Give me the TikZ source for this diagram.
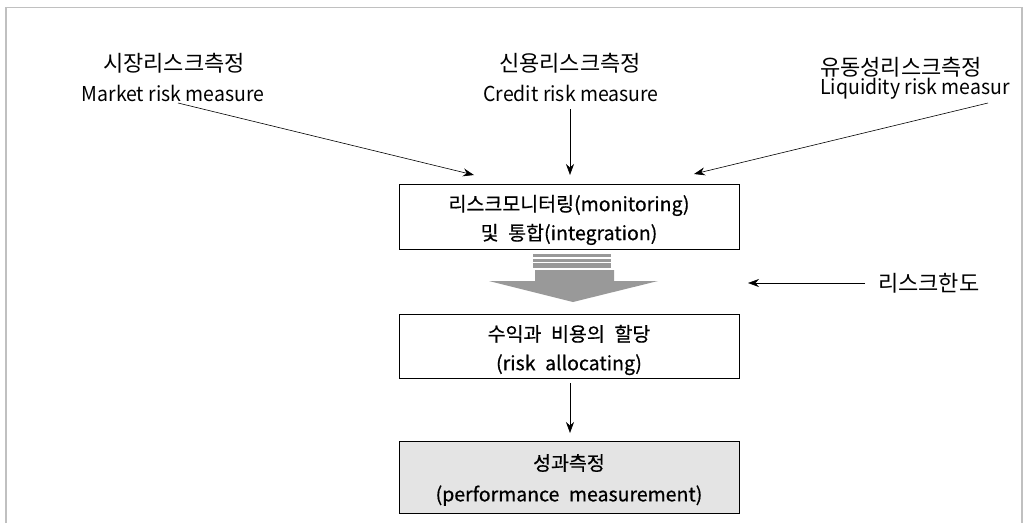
\documentclass[tikz,border=0pt]{standalone}
\usepackage{fontspec}
\setmainfont{Noto Sans CJK KR}
\newfontfamily\boxfont[FakeBold=0.6,WordSpace=2.2]{Noto Sans CJK KR}
\usetikzlibrary{arrows.meta}
\definecolor{framegray}{HTML}{C0C0C0}
\definecolor{arrowgray}{HTML}{999999}
\definecolor{boxfill}{HTML}{E4E4E4}
\tikzset{
  stepbox/.style={draw=black, line width=1pt, minimum width=340pt, inner sep=0pt},
  boxtext/.style={align=center, inner sep=0pt, font=\boxfont\fontsize{19.5}{29}\selectfont},
  toplabel/.style={inner sep=0pt, font=\fontsize{22}{24}\selectfont},
  subtitle/.style={inner sep=0pt, font=\fontsize{20.5}{22}\selectfont},
  conn/.style={line width=0.6pt, -{Stealth[length=11pt,width=8pt]}},
}
\begin{document}
\begin{tikzpicture}[x=1pt,y=-1pt]
\useasboundingbox (0,0) rectangle (1029,523);
% frame
\draw[framegray, line width=1.5pt] (6,523) -- (6,7.5) -- (1022,7.5) -- (1022,523);
% top labels
\node[toplabel] (k1) at (174,63) {시장리스크측정};
\node[subtitle, xscale=0.95] (e1) at (173,93) {Market risk measure};
\node[toplabel] (k2) at (570,63) {신용리스크측정};
\node[subtitle, xscale=0.95] (e2) at (571,93) {Credit risk measure};
\node[toplabel, anchor=west] (k3) at (820,67) {유동성리스크측정};
\node[subtitle, xscale=0.95, anchor=west] (e3) at (820,89) {Liquidity risk measur};
% boxes
\node[stepbox, minimum height=65pt] (b1) at (569,216.5) {};
\node[boxtext] (b1t) at (569,220) {리스크모니터링(monitoring)\\및 통합(integration)};
\node[stepbox, minimum height=64pt] (b2) at (569,346) {};
\node[boxtext] (b2t) at (569,350) {수익과 비용의 할당\\(risk allocating)};
\node[stepbox, minimum height=72pt, fill=boxfill] (b3) at (569,477) {};
\node[boxtext, font=\boxfont\fontsize{19.5}{31}\selectfont] (b3t) at (569,480) {성과측정\\(performance measurement)};
% arrow end points
\coordinate (s1) at (178,103);
\coordinate (t1) at (474,175);
\coordinate (s2) at (570,109);
\coordinate (t2) at (570,175);
\coordinate (s3) at (988,103);
\coordinate (t3) at (694,174);
\draw[conn] (s1) -- (t1);
\draw[conn] (s2) -- (t2);
\draw[conn] (s3) -- (t3);
% limit
\node[toplabel, anchor=west] (lim) at (878,283) {리스크한도};
\coordinate (la) at (865,283);
\coordinate (lb) at (748,283);
\draw[conn] (la) -- (lb);
% b2 -> b3
\coordinate (c0) at (570,383);
\coordinate (c1) at (570,433);
\draw[conn] (c0) -- (c1);
% striped block arrow
\fill[arrowgray] (533,254.3) rectangle (611,256.9);
\fill[arrowgray] (533,258.6) rectangle (611,261.5);
\fill[arrowgray] (533,263.3) rectangle (611,267.6);
\fill[arrowgray] (535,270) -- (614,270) -- (614,281) -- (658,281) -- (573,302) -- (489,281) -- (535,281) -- cycle;
\end{tikzpicture}
\end{document}
